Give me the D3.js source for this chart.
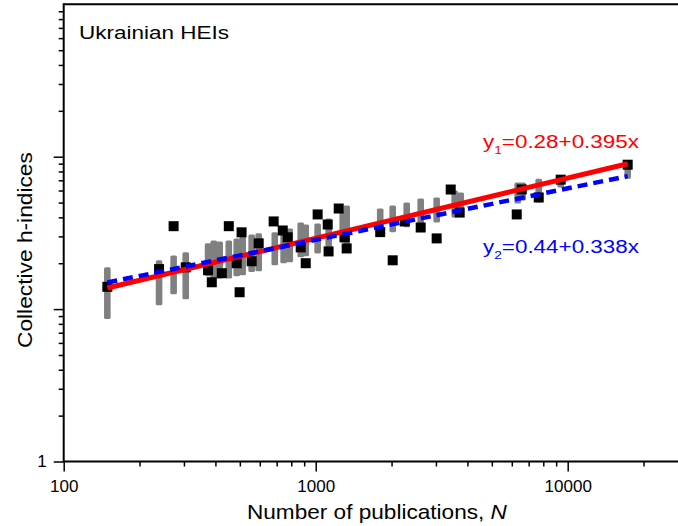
<!DOCTYPE html>
<html>
<head>
<meta charset="utf-8">
<script src="https://cdn.jsdelivr.net/npm/d3@7/dist/d3.min.js"></script>
<style>
  html, body { margin: 0; padding: 0; background: #fff; }
  svg { display: block; }
  text { font-family: "Liberation Sans", Arial, Helvetica, sans-serif; }
</style>
</head>
<body>
<svg id="chart" width="678" height="526"></svg>
<script>
// ---- Data ----
const pointN = [149, 239, 273, 305, 374, 387, 424, 452, 486, 499, 508, 557, 594, 681, 740, 774, 872, 913,
                1018, 1116, 1125, 1234, 1303, 1327, 1803, 2021, 2255, 2610, 3020, 3434, 3727, 6277, 6570, 7674, 9379, 17300];
const pointH = [14, 18.3, 35, 18.8, 18.0, 15.0, 17.2, 35, 20.0, 12.9, 31.9, 20.6, 27.0, 37.6, 32.8, 29.6, 25.4, 20.0,
                41.8, 35.9, 23.9, 45.7, 29.6, 25.0, 32, 20.9, 37.6, 34.3, 29.1, 60.9, 43.0, 41.8, 61, 54.0, 70.7, 88.6];

const rangeN  = [149, 239, 273, 305, 374, 394, 416, 452, 486, 513, 557, 594, 688, 746, 789, 872, 913,
                 1018, 1126, 1280, 1327, 1803, 2021, 2297, 2610, 3020, 3561, 3761, 6334, 6626, 7674, 9379, 17300];
const rangeLo = [8.6, 10.6, 12.5, 11.6, 16.4, 15.9, 15.9, 15.9, 16.4, 16.7, 17.5, 17.7, 19.4, 20.0, 20.3, 21.9, 22.2,
                 23.2, 25.4, 27.4, 25.8, 32.3, 31.9, 34.4, 33.8, 37.0, 39.9, 41.1, 49.3, 51.6, 50.1, 62.7, 71.8];
const rangeHi = [18.8, 20.9, 22.5, 23.6, 27.0, 28.2, 27.8, 28.2, 29.1, 30.0, 30.9, 31.4, 31.9, 34.4, 33.8, 37.0, 35.9,
                 36.5, 39.3, 43.0, 47.8, 45.7, 47.8, 50.1, 53.2, 54.0, 59.9, 58.2, 67.6, 67.6, 71.8, 75.1, 90.0];

const fitLabels     = ["y1", "y2"];
const fitIntercepts = [0.28, 0.44];
const fitSlopes     = [0.395, 0.338];
const fitNRange     = [149, 17300];

const xMajorTicks = [100, 1000, 10000];
const xTickLabels = ["100", "1000", "10000"];
const yMajorTicks = [1, 10, 100];
const yTickLabels = ["1", "", ""];

const panelTitle = "Ukrainian HEIs";
const xTitle = "Number of publications, ";
const xTitleItalic = "N";
const yTitle = "Collective h-indices";

// ---- Layout ----
const svg = d3.select("#chart");
const x0 = 63.7, yBottom = 461.5, yTop = 4.3;
const xDecade = 252;
const x = d3.scaleLog().domain([100, 30000]).range([x0, x0 + xDecade * Math.log10(300)]);
const y = d3.scaleLog().domain([1, 1000]).range([yBottom, yTop]);

function minorTicks(lo, hi) {
  const out = [];
  for (let d = lo; d < hi; d *= 10) for (let k = 2; k <= 9; k++) out.push(d * k);
  return out;
}

// stretched text helper: place text so that its width matches target
function stretchedText(parent, opts) {
  const g = parent.append("g");
  const t = g.append("text").attr("font-size", opts.size).attr("fill", opts.fill || "#000");
  opts.build(t);
  const w = t.node().getComputedTextLength();
  const s = opts.width / w;
  let left = opts.anchor === "middle" ? -opts.width / 2 : 0;
  t.attr("transform", `translate(${left},0) scale(${s},1)`);
  g.attr("transform", opts.transform);
  return g;
}

// gray ranges
svg.append("g").selectAll("rect").data(rangeN).join("rect")
  .attr("x", d => x(d) - 3.3)
  .attr("width", 6.6)
  .attr("y", (d, i) => y(rangeHi[i]))
  .attr("height", (d, i) => y(rangeLo[i]) - y(rangeHi[i]))
  .attr("rx", 1.5)
  .attr("fill", "#808080");

// black squares
const sq = 10;
svg.append("g").selectAll("rect").data(pointN).join("rect")
  .attr("x", d => x(d) - sq / 2)
  .attr("y", (d, i) => y(pointH[i]) - sq / 2)
  .attr("width", sq).attr("height", sq)
  .attr("fill", "#000");

// fit lines (log10 h = a + b log10 N)
const fitColors = ["#ff0000", "#0000ff"];
fitIntercepts.forEach((a, i) => {
  const b = fitSlopes[i];
  const pts = fitNRange.map(n => [n, Math.pow(10, a + b * Math.log10(n))]);
  svg.append("path")
    .datum(pts)
    .attr("d", d3.line().x(d => x(d[0])).y(d => y(d[1])))
    .attr("fill", "none")
    .attr("stroke", fitColors[i])
    .attr("stroke-width", i === 0 ? 5 : 4.5)
    .attr("stroke-dasharray", i === 0 ? null : "10,6");
});

// axes
const axX = svg.append("g").attr("transform", `translate(0,${yBottom})`);
axX.call(d3.axisBottom(x).tickValues(minorTicks(100, 30000).filter(v => v <= 30000)).tickSize(5).tickFormat(""));
axX.select(".domain").remove();
const axXM = svg.append("g").attr("transform", `translate(0,${yBottom})`);
axXM.call(d3.axisBottom(x).tickValues(xMajorTicks).tickSize(10).tickSizeOuter(0)
  .tickFormat((d, i) => xTickLabels[i]));
axXM.select(".domain").remove();
axXM.selectAll("text").attr("y", 18).attr("dy", "0.71em").attr("font-size", 17).attr("fill", "#000");

const axY = svg.append("g").attr("transform", `translate(${x0},0)`);
axY.call(d3.axisLeft(y).tickValues(minorTicks(1, 1000)).tickSize(5).tickFormat(""));
axY.select(".domain").remove();
const axYM = svg.append("g").attr("transform", `translate(${x0},0)`);
axYM.call(d3.axisLeft(y).tickValues(yMajorTicks).tickSize(10).tickSizeOuter(0)
  .tickFormat((d, i) => yTickLabels[i]));
axYM.select(".domain").remove();
axYM.selectAll("text").attr("x", -17).attr("font-size", 17).attr("fill", "#000");

svg.selectAll(".tick line").attr("stroke", "#000").attr("stroke-width", 1.5);

// frame lines
svg.append("line").attr("x1", x0).attr("x2", 678).attr("y1", yBottom).attr("y2", yBottom)
  .attr("stroke", "#000").attr("stroke-width", 2);
svg.append("line").attr("x1", x0).attr("x2", 678).attr("y1", yTop).attr("y2", yTop)
  .attr("stroke", "#000").attr("stroke-width", 2);
svg.append("line").attr("x1", x0).attr("x2", x0).attr("y1", yTop - 1).attr("y2", yBottom + 1)
  .attr("stroke", "#000").attr("stroke-width", 2);

// texts
stretchedText(svg, {
  size: 18.5, width: 150, transform: "translate(79,39)",
  build: t => t.text(panelTitle)
});

stretchedText(svg, {
  size: 20, width: 260, anchor: "middle", transform: "translate(377,519)",
  build: t => {
    t.append("tspan").text(xTitle);
    t.append("tspan").attr("font-style", "italic").text(xTitleItalic);
  }
});

stretchedText(svg, {
  size: 20, width: 196, anchor: "middle", transform: "translate(32,250) rotate(-90)",
  build: t => t.text(yTitle)
});

const eqPos = [[483, 148], [483, 253]];
fitLabels.forEach((lab, i) => {
  stretchedText(svg, {
    size: 18, width: 156, fill: fitColors[i], transform: `translate(${eqPos[i][0]},${eqPos[i][1]})`,
    build: t => {
      t.append("tspan").text(lab[0]);
      t.append("tspan").attr("font-size", 11).attr("dy", 6).text(lab.slice(1));
      t.append("tspan").attr("dy", -6).text("=" + fitIntercepts[i].toFixed(2) + "+" + fitSlopes[i].toFixed(3) + "x");
    }
  });
});
</script>
</body>
</html>
